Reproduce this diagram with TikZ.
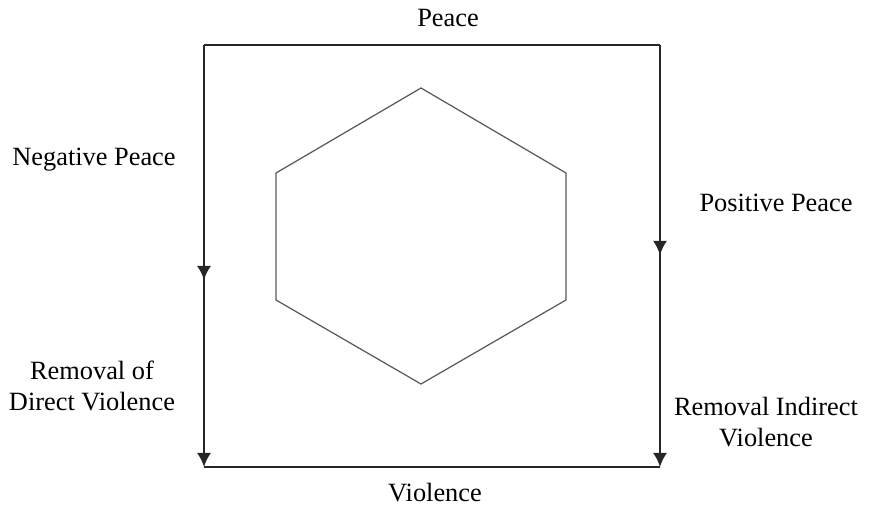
\documentclass[tikz,border=0pt]{standalone}
\usepackage{fontspec}
\setmainfont{Liberation Serif}
\usetikzlibrary{arrows.meta}
\begin{document}
\begin{tikzpicture}[scale=1.0,
  lbl/.style={font=\fontsize{15}{18}\selectfont,align=center,inner sep=0pt},
  side/.style={line width=1.1pt,black!85},
  tip/.style={-{Latex[length=8pt,width=8pt]}},
  hex/.style={line width=0.7pt,black!65}]
\useasboundingbox (0,0) rectangle (17.38,-10.16);
% frame corners
\coordinate (tl) at (4.08,-0.9);
\coordinate (tr) at (13.2,-0.9);
\coordinate (bl) at (4.08,-9.34);
\coordinate (br) at (13.2,-9.34);
\coordinate (lmid) at (4.08,-5.6);
\coordinate (rmid) at (13.2,-5.1);
\draw[side] (tl) -- (tr);
\draw[side] (bl) -- (br);
\draw[side,tip] (tl) -- (bl);
\draw[side,tip] (tl) -- (lmid);
\draw[side,tip] (tr) -- (br);
\draw[side,tip] (tr) -- (rmid);
% hexagon
\draw[hex] (8.42,-1.76) -- (11.32,-3.46) -- (11.32,-6.0) -- (8.42,-7.68)
  -- (5.52,-6.0) -- (5.52,-3.46) -- cycle;
% labels
\node[lbl] (peace) at (8.96,-0.36) {Peace};
\node[lbl] (neg) at (1.88,-3.2) {Negative Peace};
\node[lbl] (pos) at (15.52,-4.06) {Positive Peace};
\node[lbl] (remdir) at (1.84,-7.72) {Removal of\\Direct Violence};
\node[lbl] (remind) at (15.32,-8.44) {Removal Indirect\\Violence};
\node[lbl] (viol) at (8.7,-9.86) {Violence};
\end{tikzpicture}
\end{document}
